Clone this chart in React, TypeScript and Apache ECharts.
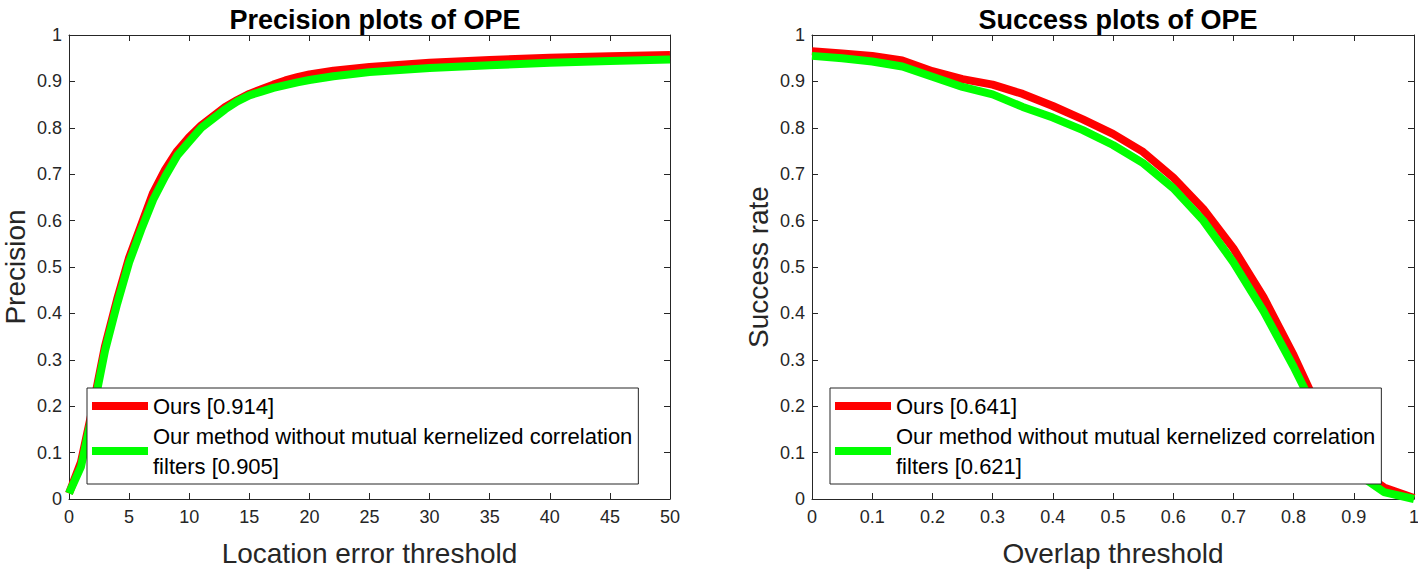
import React, { useEffect, useRef } from "react";
import * as echarts from "echarts";

// ---- Precision plot data ----
const precThresholds = [0, 1, 2, 3, 4, 5, 6, 7, 8, 9, 10, 11, 12, 13, 14, 15, 16, 17, 18, 19, 20, 22, 25, 30, 35, 40, 45, 50];
const precOurs = [0.012, 0.08, 0.2, 0.33, 0.43, 0.52, 0.59, 0.66, 0.71, 0.75, 0.78, 0.805, 0.825, 0.845, 0.86, 0.873, 0.883, 0.893, 0.902, 0.909, 0.915, 0.923, 0.931, 0.94, 0.946, 0.951, 0.954, 0.957];
const precNoMKCF = [0.012, 0.07, 0.19, 0.32, 0.42, 0.51, 0.58, 0.645, 0.695, 0.74, 0.77, 0.8, 0.82, 0.84, 0.857, 0.87, 0.878, 0.886, 0.892, 0.898, 0.903, 0.911, 0.92, 0.929, 0.935, 0.94, 0.944, 0.947];

// ---- Success plot data ----
const overlapThresholds = [0, 0.05, 0.1, 0.15, 0.2, 0.25, 0.3, 0.35, 0.4, 0.45, 0.5, 0.55, 0.6, 0.65, 0.7, 0.75, 0.8, 0.85, 0.9, 0.95, 1];
const succOurs = [0.965, 0.96, 0.955, 0.945, 0.922, 0.905, 0.893, 0.873, 0.847, 0.818, 0.787, 0.748, 0.693, 0.625, 0.54, 0.435, 0.31, 0.17, 0.07, 0.025, 0.002];
const succNoMKCF = [0.955, 0.95, 0.943, 0.932, 0.91, 0.888, 0.872, 0.845, 0.822, 0.795, 0.763, 0.724, 0.67, 0.6, 0.51, 0.405, 0.285, 0.155, 0.06, 0.015, 0];

const precNames = ["Ours [0.914]", "Our method without mutual kernelized correlation filters [0.905]"];
const succNames = ["Ours [0.641]", "Our method without mutual kernelized correlation filters [0.621]"];
const titles = ["Precision plots of OPE", "Success plots of OPE"];
const xNames = ["Location error threshold", "Overlap threshold"];
const yNames = ["Precision", "Success rate"];

const FONT = "'Liberation Sans', Arial, sans-serif";
const AX = "#262626";

const zip = (xs: number[], ys: number[]) => xs.map((x, i) => [x, ys[i]]);

export default function App() {
  const ref = useRef<HTMLDivElement>(null);
  useEffect(() => {
    if (!ref.current) return;
    const chart = echarts.init(ref.current, null, { renderer: "svg" });
    const grids = [
      { left: 69, top: 35, width: 601, height: 464, containLabel: false, outerBoundsMode: "none" },
      { left: 812, top: 35, width: 602, height: 464, containLabel: false, outerBoundsMode: "none" },
    ];
    const xRanges = [
      { min: 0, max: 50, interval: 5, fmt: (v: number) => String(v) },
      { min: 0, max: 1, interval: 0.1, fmt: (v: number) => String(+v.toFixed(1)) },
    ];
    const xAxes: any[] = [];
    const yAxes: any[] = [];
    [0, 1].forEach((g) => {
      const r = xRanges[g];
      const common = {
        type: "value",
        gridIndex: g,
        axisLine: { show: true, onZero: false, lineStyle: { color: AX, width: 1 } },
        axisTick: { show: true, inside: true, length: 6, lineStyle: { color: AX } },
        splitLine: { show: false },
      };
      xAxes.push({
        ...common,
        position: "bottom",
        min: r.min,
        max: r.max,
        interval: r.interval,
        name: xNames[g],
        nameLocation: "middle",
        nameGap: 40,
        nameTextStyle: { fontSize: 28, color: AX, fontFamily: FONT },
        axisLabel: { fontSize: 18, color: AX, fontFamily: FONT, margin: 9, formatter: r.fmt, showMinLabel: true, showMaxLabel: true },
      });
      xAxes.push({
        ...common,
        position: "top",
        min: r.min,
        max: r.max,
        interval: r.interval,
        axisLabel: { show: false },
      });
      yAxes.push({
        ...common,
        position: "left",
        min: 0,
        max: 1,
        interval: 0.1,
        name: yNames[g],
        nameLocation: "middle",
        nameGap: 40,
        nameTextStyle: { fontSize: 28, color: AX, fontFamily: FONT },
        axisLabel: { fontSize: 18, color: AX, fontFamily: FONT, margin: 7, formatter: (v: number) => String(+v.toFixed(1)), showMinLabel: true, showMaxLabel: true },
      });
      yAxes.push({
        ...common,
        position: "right",
        min: 0,
        max: 1,
        interval: 0.1,
        axisLabel: { show: false },
      });
    });

    const lineSeries = (name: string, color: string, xs: number[], ys: number[], g: number) => ({
      type: "line",
      name,
      xAxisIndex: g * 2,
      yAxisIndex: g * 2,
      data: zip(xs, ys),
      showSymbol: false,
      symbol: "none",
      color,
      lineStyle: { color, width: 8 },
      clip: true,
    });

    const legendFmt = (name: string) => name.replace(" filters", "\nfilters");
    const legendCommon = {
      orient: "vertical",
      top: 388,
      backgroundColor: "#ffffff",
      borderColor: AX,
      borderWidth: 1,
      borderRadius: 0,
      padding: [3, 6, 3, 5],
      itemGap: 0,
      itemWidth: 56,
      itemHeight: 8,
      icon: "rect",
      formatter: legendFmt,
      textStyle: { fontSize: 22, lineHeight: 30, color: "#000", fontFamily: FONT, padding: [0, 0, 0, 0] },
    };

    chart.setOption({
      animation: false,
      backgroundColor: "#ffffff",
      title: [
        { text: titles[0], left: 370, top: 1, textAlign: "center", textStyle: { fontSize: 27, fontWeight: "bold", color: "#000", fontFamily: FONT } },
        { text: titles[1], left: 1113, top: 1, textAlign: "center", textStyle: { fontSize: 27, fontWeight: "bold", color: "#000", fontFamily: FONT } },
      ],
      grid: grids,
      xAxis: xAxes,
      yAxis: yAxes,
      legend: [
        { ...legendCommon, left: 87, data: precNames },
        { ...legendCommon, left: 830, data: succNames },
      ],
      series: [
        lineSeries(precNames[0], "#ff0000", precThresholds, precOurs, 0),
        lineSeries(precNames[1], "#00ff00", precThresholds, precNoMKCF, 0),
        lineSeries(succNames[0], "#ff0000", overlapThresholds, succOurs, 1),
        lineSeries(succNames[1], "#00ff00", overlapThresholds, succNoMKCF, 1),
      ],
    });
    return () => chart.dispose();
  }, []);
  return <div ref={ref} style={{ position: "fixed", left: 0, top: 0, width: 1418, height: 573 }} />;
}
